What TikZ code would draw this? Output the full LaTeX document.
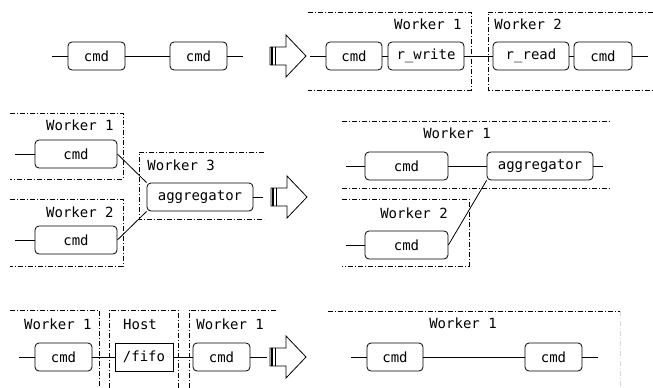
\documentclass[tikz,border=0pt]{standalone}
\usepackage{fontspec}
\setmonofont{DejaVu Sans Mono}
\usepackage{tikz}

\newcommand{\wfont}{\ttfamily\fontsize{14}{16}\selectfont}

\tikzset{
  proc/.style={draw, rounded corners=4pt, minimum height=28pt, inner sep=0pt, font=\wfont},
  pipe/.style={draw, minimum height=28pt, inner sep=0pt, font=\wfont},
  zone/.style={line width=0.7pt, dash pattern=on 5pt off 2pt on 1pt off 2pt},
  lbl/.style={inner sep=0pt, font=\wfont},
  fatarrow/.pic={
    \draw[fill=white] (0,-9) -- (16,-9) -- (16,-21) -- (36,0) -- (16,21) -- (16,9) -- (0,9) -- cycle;
    \draw[line width=2.2pt] (2.2,-9) -- (2.2,9);
    \draw (5,-9) -- (5,9);
  }
}

\begin{document}
\begin{tikzpicture}[x=1pt, y=-1pt, line width=0.8pt]
    \useasboundingbox (0,0) rectangle (653,388);

    % first row: plain chain, then split over two workers
    \node[proc, minimum width=57pt] (c1) at (96.5,56) {cmd};
    \node[proc, minimum width=57pt] (c2) at (198.5,56) {cmd};
    \coordinate (in1) at (52,56);
    \coordinate (out1) at (243,56);
    \draw (in1) -- (c1) -- (c2) -- (out1);
    \pic at (270,56) {fatarrow};

    \draw[zone] (308,12) -- (471,12) -- (471,90) -- (308,90);
    \draw[zone] (653,12) -- (488,12) -- (488,90) -- (653,90);
    \node[lbl, anchor=east] (w1a) at (462,24) {Worker 1};
    \node[lbl, anchor=west] (w2a) at (494,24) {Worker 2};
    \node[proc, minimum width=56pt] (d1) at (354,56) {cmd};
    \node[proc, minimum width=76pt] (rw) at (426,56) {r\_write};
    \node[proc, minimum width=76pt] (rr) at (531,56) {r\_read};
    \node[proc, minimum width=58pt] (d2) at (603,56) {cmd};
    \coordinate (in2) at (310,56);
    \coordinate (out2) at (648,56);
    \draw (in2) -- (d1) -- (rw) -- (rr) -- (d2) -- (out2);

    % second row: aggregator on its own worker, then moved to worker 1
    \draw[zone] (10,113) -- (123,113) -- (123,179) -- (10,179);
    \draw[zone] (10,199) -- (123,199) -- (123,266) -- (10,266);
    \draw[zone] (264,152) -- (139,152) -- (139,219) -- (264,219);
    \node[lbl, anchor=east] (w1b) at (114,125) {Worker 1};
    \node[lbl, anchor=east] (w2b) at (114,212) {Worker 2};
    \node[lbl, anchor=west] (w3b) at (147,165) {Worker 3};
    \node[proc, minimum width=82pt] (e1) at (76,154) {cmd};
    \node[proc, minimum width=82pt] (e2) at (76,240) {cmd};
    \node[proc, minimum width=106pt] (ag1) at (200,197) {aggregator};
    \coordinate (in3) at (15,154);
    \coordinate (in4) at (15,240);
    \coordinate (out3) at (263,197);
    \draw (in3) -- (e1);
    \draw (in4) -- (e2);
    \draw (e1.east) -- (ag1.north west);
    \draw (e2.east) -- (ag1.south west);
    \draw (ag1) -- (out3);
    \pic at (271,197) {fatarrow};

    \draw[zone] (342,121) -- (610,121);
    \draw[zone] (342,188) -- (610,188);
    \draw[zone] (342,199) -- (469,199) -- (469,266) -- (342,266);
    \node[lbl] (w1c) at (457,133) {Worker 1};
    \node[lbl] (w2c) at (414,213) {Worker 2};
    \node[proc, minimum width=83pt] (f1) at (406.5,166) {cmd};
    \node[proc, minimum width=83pt] (f2) at (406.5,245) {cmd};
    \node[proc, minimum width=106pt] (ag2) at (540,166) {aggregator};
    \coordinate (in5) at (346,166);
    \coordinate (in6) at (346,245);
    \coordinate (out5) at (603,166);
    \draw (in5) -- (f1) -- (ag2) -- (out5);
    \draw (in6) -- (f2);
    \draw (f2.east) -- (ag2.south west);

    % third row: fifo on the host, then a direct pipe
    \draw[zone] (10,310) -- (99,310) -- (99,388);
    \draw[zone] (109,388) -- (109,310) -- (178,310) -- (178,388);
    \draw[zone] (189,388) -- (189,310) -- (278,310);
    \node[lbl, anchor=east] (w1d) at (92,324) {Worker 1};
    \node[lbl] (host) at (140,324) {Host};
    \node[lbl, anchor=west] (w1e) at (196,324) {Worker 1};
    \node[proc, minimum width=57pt] (g1) at (63.5,357) {cmd};
    \node[pipe, minimum width=58pt] (fifo) at (144,357) {/fifo};
    \node[proc, minimum width=57pt] (g2) at (221.5,357) {cmd};
    \coordinate (in7) at (19,357);
    \coordinate (out7) at (267,357);
    \draw (in7) -- (g1) -- (fifo) -- (g2) -- (out7);
    \pic at (270,357) {fatarrow};

    \draw[zone] (328,311) -- (620,311);
    \draw[zone, black!15] (620,311) -- (620,388);
    \node[lbl] (w1f) at (463,323) {Worker 1};
    \node[proc, minimum width=56pt] (h1) at (395,357) {cmd};
    \node[proc, minimum width=57pt] (h2) at (553.5,357) {cmd};
    \coordinate (in8) at (351,357);
    \coordinate (out8) at (598,357);
    \draw (in8) -- (h1) -- (h2) -- (out8);
\end{tikzpicture}
\end{document}
